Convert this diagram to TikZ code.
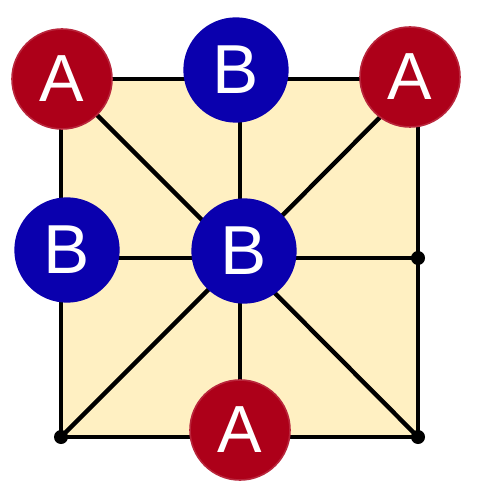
\documentclass[tikz,border=0pt]{standalone}
\usepackage{fontspec}
\setsansfont{Liberation Sans}
\definecolor{sqfill}{HTML}{FFF0C2}
\definecolor{redA}{HTML}{AD0019}
\definecolor{blueB}{HTML}{0A00AE}
\tikzset{
  pieceA/.style={circle,fill=redA,draw=redA!85!white,line width=1.2pt,minimum size=75pt,inner sep=0pt,text=white,font=\sffamily\fontsize{50}{50}\selectfont},
  pieceB/.style={circle,fill=blueB,minimum size=79pt,inner sep=0pt,text=white,font=\sffamily\fontsize{52}{52}\selectfont},
  edge/.style={line width=3.3pt,black},
  vdot/.style={fill=black}
}
\begin{document}
\begin{tikzpicture}[x=0.75pt,y=-0.75pt]
\useasboundingbox (0,0) rectangle (480,498);
% board points
\coordinate (nw) at (61,79);
\coordinate (ne) at (418,79);
\coordinate (se) at (418,437);
\coordinate (sw) at (61,437);
\coordinate (n) at (240,79);
\coordinate (e) at (418,258);
\coordinate (s) at (240,437);
\coordinate (w) at (61,258);
\coordinate (c) at (240,258);
\filldraw[sqfill] (nw) rectangle (se);
\draw[edge,line join=round] (nw)--(ne)--(se)--(sw)--cycle;
\foreach \p in {nw,n,ne,e,se,s,sw,w}
  \draw[edge] (c)--(\p);
\fill[vdot] (e) circle (7);
\fill[vdot] (se) circle (7);
\fill[vdot] (sw) circle (7);
% pieces
\node[pieceA] (a1) at (62,79) {A};
\node[pieceB] (b1) at (236,70) {B};
\node[pieceA] (a2) at (410,77) {A};
\node[pieceB] (b2) at (67,250) {B};
\node[pieceB] (b3) at (244,251) {B};
\node[pieceA] (a3) at (240,430) {A};
\end{tikzpicture}
\end{document}
